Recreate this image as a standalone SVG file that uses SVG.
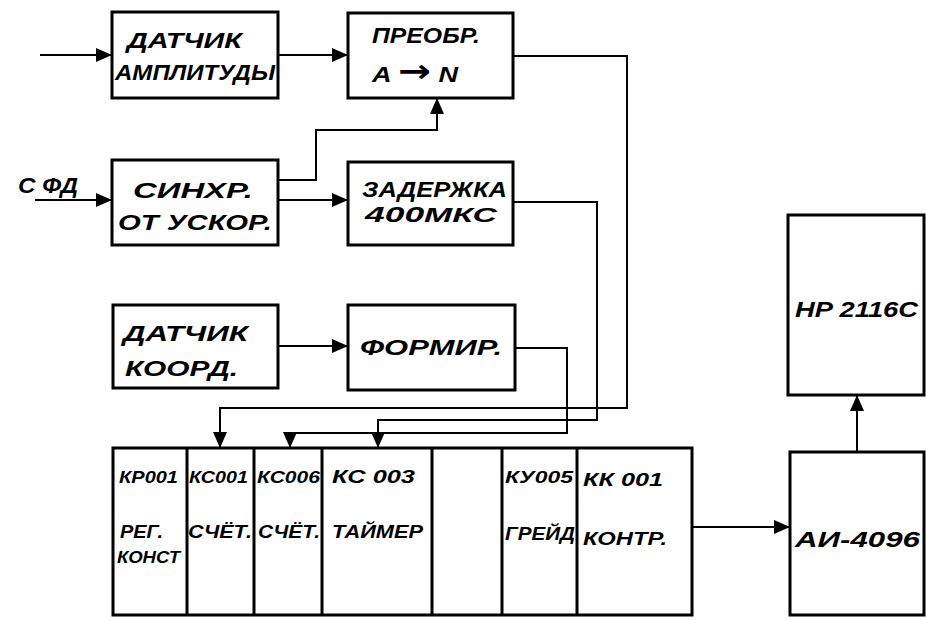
<svg xmlns="http://www.w3.org/2000/svg" width="926" height="620" viewBox="0 0 926 620">
<defs>
<style>
.box{fill:#fff;stroke:#000;stroke-width:3}
.div{stroke:#000;stroke-width:3}
.w{fill:none;stroke:#000;stroke-width:2}
text{font-family:"Liberation Sans","DejaVu Sans",sans-serif;font-style:italic;font-weight:bold;fill:#000}
.t{font-size:22px}
.s{font-size:17px}
.m{font-size:19px}
</style>
<marker id="ah" viewBox="0 0 16 14" refX="16" refY="7" markerWidth="16" markerHeight="14" orient="auto" markerUnits="userSpaceOnUse">
<path d="M0,0 L16,7 L0,14 z" fill="#000"/>
</marker>
</defs>
<rect width="926" height="620" fill="#fff"/>
<g id="connectors">
<path class="w" d="M40,55 H112" marker-end="url(#ah)"/>
<path class="w" d="M278,55 H348" marker-end="url(#ah)"/>
<path class="w" d="M35,200 H112" marker-end="url(#ah)"/>
<path class="w" d="M278,200 H348" marker-end="url(#ah)"/>
<path class="w" d="M278,180 H316 V130 H437 V98" marker-end="url(#ah)"/>
<path class="w" d="M278,346 H348" marker-end="url(#ah)"/>
<path class="w" d="M513,56 H627 V408 H220 V448" marker-end="url(#ah)"/>
<path class="w" d="M513,202 H597 V420 H378 V448" marker-end="url(#ah)"/>
<path class="w" d="M515,348 H567 V433 H290 V448" marker-end="url(#ah)"/>
<path class="w" d="M692,527 H790" marker-end="url(#ah)"/>
<path class="w" d="M857,452 V395" marker-end="url(#ah)"/>
</g>
<g id="sfd-label"><text class="t" x="18" y="193" textLength="60" lengthAdjust="spacingAndGlyphs">С ФД</text></g>
<g id="datchik-ampl">
<rect class="box" x="112" y="12" width="166" height="86"/>
<text class="t" x="127" y="48" textLength="115" lengthAdjust="spacingAndGlyphs">ДАТЧИК</text>
<text class="t" x="115" y="80" textLength="160" lengthAdjust="spacingAndGlyphs">АМПЛИТУДЫ</text>
</g>
<g id="preobr">
<rect class="box" x="348" y="13" width="165" height="85"/>
<text class="t" x="372" y="43" textLength="108" lengthAdjust="spacingAndGlyphs">ПРЕОБР.</text>
<text class="t" x="372" y="82" font-size="28" textLength="86" lengthAdjust="spacingAndGlyphs">A <tspan font-family="DejaVu Sans" font-style="normal" font-size="32">→</tspan> N</text>
</g>
<g id="sinhr">
<rect class="box" x="112" y="160" width="166" height="85"/>
<text class="t" x="133" y="198" textLength="120" lengthAdjust="spacingAndGlyphs">СИНХР.</text>
<text class="t" x="118" y="230" textLength="154" lengthAdjust="spacingAndGlyphs">ОТ УСКОР.</text>
</g>
<g id="zaderzhka">
<rect class="box" x="348" y="162" width="165" height="83"/>
<text class="t" x="362" y="197" font-size="26" textLength="145" lengthAdjust="spacingAndGlyphs">ЗАДЕРЖКА</text>
<text class="t" x="365" y="222" font-size="26" textLength="132" lengthAdjust="spacingAndGlyphs">400<tspan font-size="21">МКС</tspan></text>
</g>
<g id="datchik-koord">
<rect class="box" x="113" y="305" width="165" height="83"/>
<text class="t" x="123" y="341" font-size="27" textLength="125" lengthAdjust="spacingAndGlyphs">ДАТЧИК</text>
<text class="t" x="125" y="376" font-size="27" textLength="113" lengthAdjust="spacingAndGlyphs">КООРД.</text>
</g>
<g id="formir">
<rect class="box" x="348" y="305" width="167" height="85"/>
<text class="t" x="360" y="355" font-size="25" textLength="142" lengthAdjust="spacingAndGlyphs">ФОРМИР.</text>
</g>
<g id="crate">
<rect class="box" x="113" y="448" width="579" height="167"/>
<line class="div" x1="187" y1="448" x2="187" y2="615"/>
<line class="div" x1="254" y1="448" x2="254" y2="615"/>
<line class="div" x1="322" y1="448" x2="322" y2="615"/>
<line class="div" x1="432" y1="448" x2="432" y2="615"/>
<line class="div" x1="502" y1="448" x2="502" y2="615"/>
<line class="div" x1="577" y1="448" x2="577" y2="615"/>
<text class="s" x="119" y="483" textLength="59" lengthAdjust="spacingAndGlyphs">КР001</text>
<text class="s" x="189" y="483" textLength="59" lengthAdjust="spacingAndGlyphs">КС001</text>
<text class="s" x="257" y="483" textLength="63" lengthAdjust="spacingAndGlyphs">КС006</text>
<text class="m" x="332" y="483" textLength="83" lengthAdjust="spacingAndGlyphs">КС 003</text>
<text class="s" x="505" y="483" textLength="68" lengthAdjust="spacingAndGlyphs">КУ005</text>
<text class="m" x="583" y="486" textLength="80" lengthAdjust="spacingAndGlyphs">КК 001</text>
<text class="m" x="120" y="538" textLength="43" lengthAdjust="spacingAndGlyphs">РЕГ.</text>
<text class="s" x="117" y="563" textLength="63" lengthAdjust="spacingAndGlyphs">КОНСТ</text>
<text class="m" x="188" y="538" textLength="64" lengthAdjust="spacingAndGlyphs">СЧЁТ.</text>
<text class="m" x="258" y="538" textLength="62" lengthAdjust="spacingAndGlyphs">СЧЁТ.</text>
<text class="m" x="332" y="538" textLength="91" lengthAdjust="spacingAndGlyphs">ТАЙМЕР</text>
<text class="m" x="505" y="540" textLength="70" lengthAdjust="spacingAndGlyphs">ГРЕЙД</text>
<text class="m" x="583" y="545" textLength="84" lengthAdjust="spacingAndGlyphs">КОНТР.</text>
</g>
<g id="ai4096">
<rect class="box" x="790" y="452" width="134" height="163"/>
<text class="t" x="795" y="547" font-size="28" textLength="125" lengthAdjust="spacingAndGlyphs">АИ-4096</text>
</g>
<g id="hp2116c">
<rect class="box" x="788" y="215" width="136" height="180"/>
<text class="t" x="795" y="317" font-size="28" textLength="123" lengthAdjust="spacingAndGlyphs">HP 2116C</text>
</g>
</svg>
